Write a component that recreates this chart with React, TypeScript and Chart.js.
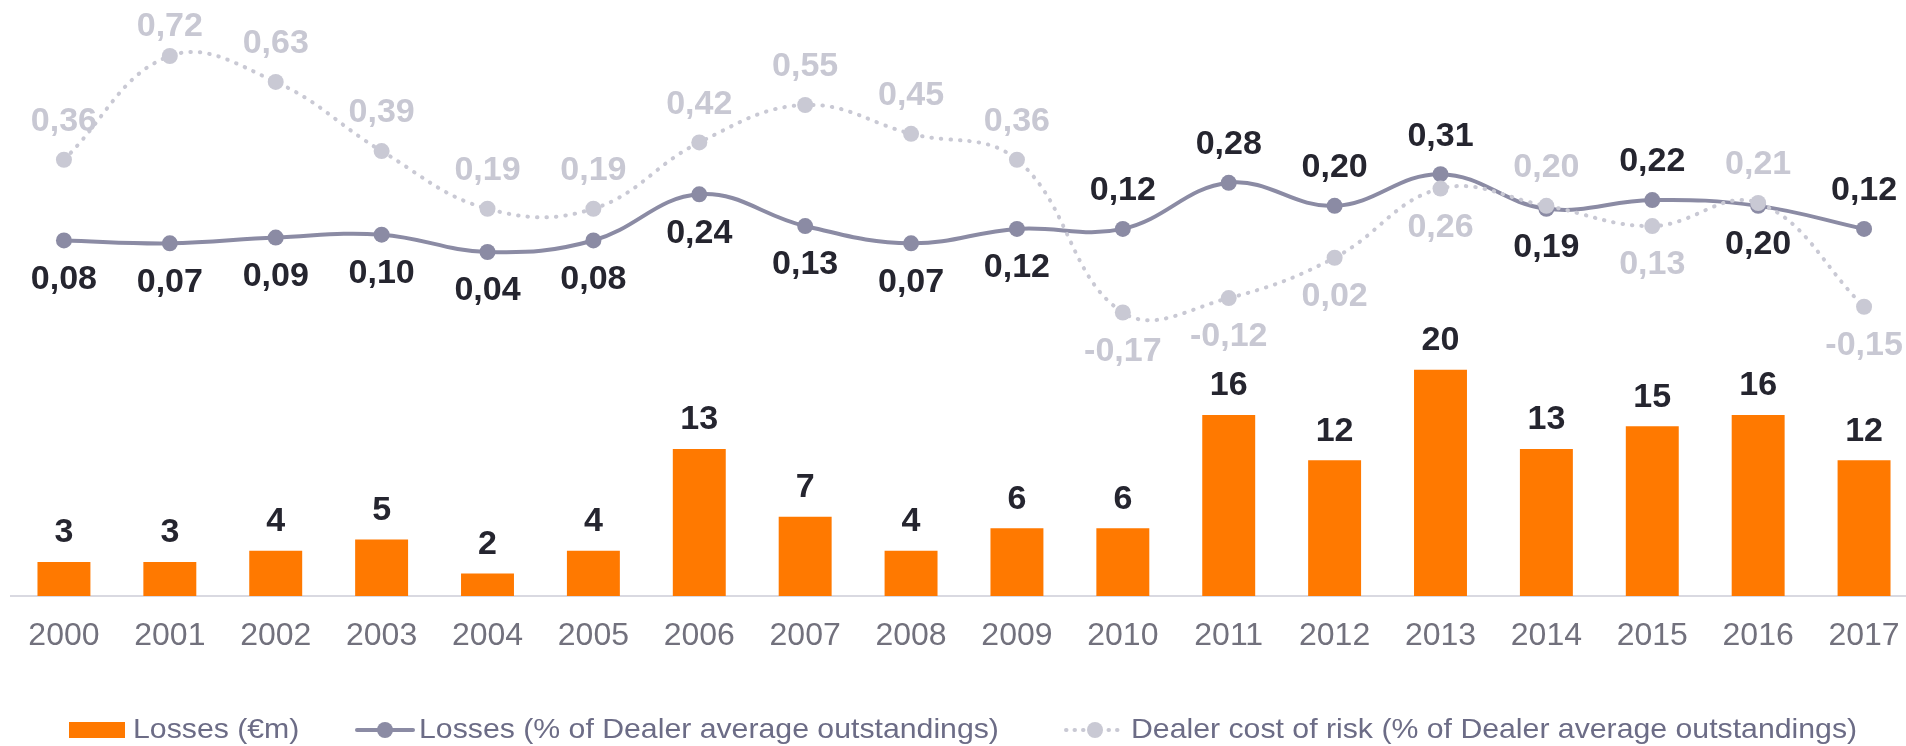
import React, { useEffect, useRef } from 'react';
import { Chart, registerables } from 'chart.js';

Chart.register(...registerables);

// ---- data ----
const years = ['2000', '2001', '2002', '2003', '2004', '2005', '2006', '2007', '2008', '2009', '2010', '2011', '2012', '2013', '2014', '2015', '2016', '2017'];
const lossesEur = [3, 3, 4, 5, 2, 4, 13, 7, 4, 6, 6, 16, 12, 20, 13, 15, 16, 12];
const lossesPct = [0.08, 0.07, 0.09, 0.10, 0.04, 0.08, 0.24, 0.13, 0.07, 0.12, 0.12, 0.28, 0.20, 0.31, 0.19, 0.22, 0.20, 0.12];
const dealerCostOfRisk = [0.36, 0.72, 0.63, 0.39, 0.19, 0.19, 0.42, 0.55, 0.45, 0.36, -0.17, -0.12, 0.02, 0.26, 0.20, 0.13, 0.21, -0.15];
const legendLabels = ['Losses (€m)', 'Losses (% of Dealer average outstandings)', 'Dealer cost of risk (% of Dealer average outstandings)'];

// label placement (layout, not data)
const lossesPctLabelSide = ['below', 'below', 'below', 'below', 'below', 'below', 'below', 'below', 'below', 'below', 'above', 'above', 'above', 'above', 'below', 'above', 'below', 'above'];
const dealerLabelSide = ['above', 'above', 'above', 'above', 'above', 'above', 'above', 'above', 'above', 'above', 'below', 'below', 'below', 'below', 'above', 'below', 'above', 'below'];

// ---- styles ----
const FONT = '"Liberation Sans", Arial, Helvetica, sans-serif';
const ORANGE = '#ff7900';
const LINE_DARK = '#8b8ba4';
const LINE_LIGHT = '#c9c9d4';
const LABEL_DARK = '#25252f';
const LABEL_LIGHT = '#c8c8d3';
const TICK_COLOR = '#72717d';
const LEGEND_TEXT = '#6c6c86';

const fmt = (v: number) => v.toFixed(2).replace('.', ',');

const labelsPlugin = {
  id: 'valueLabels',
  afterDatasetsDraw(chart: any) {
    const ctx = chart.ctx;
    ctx.save();
    ctx.font = `bold 34px ${FONT}`;
    ctx.textAlign = 'center';
    ctx.textBaseline = 'middle';
    const barMeta = chart.getDatasetMeta(0);
    ctx.fillStyle = LABEL_DARK;
    barMeta.data.forEach((el: any, i: number) => {
      ctx.fillText(String(lossesEur[i]), el.x, el.y - 29);
    });
    const top = chart.chartArea.top;
    const m1 = chart.getDatasetMeta(1);
    m1.data.forEach((el: any, i: number) => {
      const off = lossesPctLabelSide[i] === 'above' ? -38 : 39;
      ctx.fillStyle = LABEL_DARK;
      ctx.fillText(fmt(lossesPct[i]), el.x, Math.max(el.y + off, top + 17));
    });
    const m2 = chart.getDatasetMeta(2);
    m2.data.forEach((el: any, i: number) => {
      const off = dealerLabelSide[i] === 'above' ? -38 : 39;
      ctx.fillStyle = LABEL_LIGHT;
      ctx.fillText(fmt(dealerCostOfRisk[i]), el.x, Math.max(el.y + off, top + 17));
    });
    ctx.restore();
  },
};

const legendPlugin = {
  id: 'customLegend',
  afterDraw(chart: any) {
    const ctx = chart.ctx;
    ctx.save();
    const cy = 730;
    ctx.fillStyle = ORANGE;
    ctx.fillRect(69, 722, 56, 16);
    ctx.strokeStyle = LINE_DARK;
    ctx.lineWidth = 4;
    ctx.lineCap = 'round';
    ctx.beginPath();
    ctx.moveTo(357, cy);
    ctx.lineTo(413, cy);
    ctx.stroke();
    ctx.fillStyle = LINE_DARK;
    ctx.beginPath();
    ctx.arc(385, cy, 8, 0, Math.PI * 2);
    ctx.fill();
    ctx.strokeStyle = LINE_LIGHT;
    ctx.setLineDash([0.5, 8]);
    ctx.beginPath();
    ctx.moveTo(1066, cy);
    ctx.lineTo(1118, cy);
    ctx.stroke();
    ctx.setLineDash([]);
    ctx.fillStyle = LINE_LIGHT;
    ctx.beginPath();
    ctx.arc(1095, cy, 8, 0, Math.PI * 2);
    ctx.fill();
    ctx.font = `28px ${FONT}`;
    ctx.fillStyle = LEGEND_TEXT;
    ctx.textAlign = 'left';
    ctx.textBaseline = 'alphabetic';
    const xs = [133, 419, 1131];
    legendLabels.forEach((t, i) => {
      ctx.save();
      ctx.translate(xs[i], 738);
      ctx.scale(1.08, 1);
      ctx.fillText(t, 0, 0);
      ctx.restore();
    });
    ctx.restore();
  },
};

export default function App() {
  const ref = useRef<HTMLCanvasElement | null>(null);

  useEffect(() => {
    if (!ref.current) return;
    const chart = new Chart(ref.current, {
      type: 'bar',
      data: {
        labels: years,
        datasets: [
          {
            type: 'bar',
            label: legendLabels[0],
            data: lossesEur,
            backgroundColor: ORANGE,
            borderWidth: 0,
            barPercentage: 0.5,
            categoryPercentage: 1,
            yAxisID: 'y',
            order: 3,
          } as any,
          {
            type: 'line',
            label: legendLabels[1],
            data: lossesPct,
            borderColor: LINE_DARK,
            backgroundColor: LINE_DARK,
            borderWidth: 4,
            pointRadius: 8,
            pointBorderWidth: 0,
            pointBackgroundColor: LINE_DARK,
            tension: 0.4,
            fill: false,
            yAxisID: 'y2',
            order: 2,
          } as any,
          {
            type: 'line',
            label: legendLabels[2],
            data: dealerCostOfRisk,
            borderColor: LINE_LIGHT,
            backgroundColor: LINE_LIGHT,
            borderWidth: 4,
            borderDash: [0.5, 9],
            borderCapStyle: 'round',
            pointRadius: 8,
            pointBorderWidth: 0,
            pointBackgroundColor: LINE_LIGHT,
            tension: 0.4,
            fill: false,
            yAxisID: 'y2',
            order: 1,
          } as any,
        ],
      },
      options: {
        responsive: false,
        animation: false,
        devicePixelRatio: 1,
        layout: { padding: { left: 11, right: 10, top: 10, bottom: 0 } },
        plugins: {
          legend: { display: false },
          tooltip: { enabled: false },
          title: { display: false },
        },
        scales: {
          x: {
            offset: true,
            grid: { display: false, drawTicks: false },
            border: { display: true, color: '#d9d9e1', width: 2 },
            ticks: {
              color: TICK_COLOR,
              font: { family: FONT, size: 32 },
              padding: 21,
              maxRotation: 0,
              autoSkip: false,
            },
            afterFit: (s: any) => {
              s.height = 150;
            },
          },
          y: { display: false, min: 0, max: 51.81 },
          y2: { display: false, min: -1.1537, max: 0.8796 },
        },
      } as any,
      plugins: [labelsPlugin, legendPlugin],
    });
    return () => chart.destroy();
  }, []);

  return (
    <div
      style={{
        position: 'fixed',
        left: 0,
        top: 0,
        width: 1906,
        height: 746,
        overflow: 'hidden',
        background: '#ffffff',
      }}
    >
      <canvas ref={ref} width={1927} height={746} style={{ display: 'block', width: 1927, height: 746 }} />
    </div>
  );
}
